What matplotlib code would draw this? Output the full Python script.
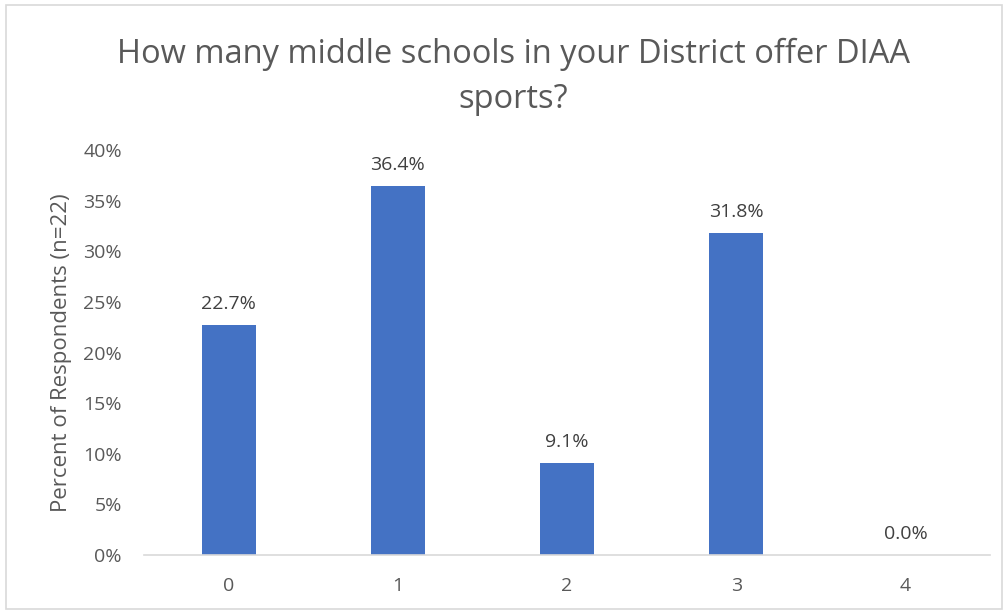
import matplotlib.pyplot as plt
import matplotlib.patches as patches

# chart data
categories = ["0", "1", "2", "3", "4"]
percents = [22.7, 36.4, 9.1, 31.8, 0.0]
y_ticks = [0, 5, 10, 15, 20, 25, 30, 35, 40]

plt.rcParams['font.family'] = ['Open Sans', 'DejaVu Sans']

fig = plt.figure(figsize=(10.06, 6.11), dpi=100)
ax = fig.add_axes([144/1006, 56/611, 846/1006, 405/611])

x = range(len(categories))
ax.bar(x, percents, width=0.32, color='#4472C4', zorder=2)

for xi, v in zip(x, percents):
    ax.text(xi, v + 1.2, "%.1f%%" % v, ha='center', va='bottom',
            fontsize=14, color='#404040')

ax.set_xlim(-0.5, len(categories) - 0.5)
ax.set_ylim(0, 40)
ax.set_xticks(list(x))
ax.set_xticklabels(categories)
ax.set_yticks(y_ticks)
ax.set_yticklabels([str(t) + "%" for t in y_ticks])
ax.tick_params(axis='both', length=0, labelsize=14, colors='#595959')
ax.tick_params(axis='x', pad=16)
ax.tick_params(axis='y', pad=16)

for s in ['top', 'right', 'left']:
    ax.spines[s].set_visible(False)
ax.spines['bottom'].set_color('#d9d9d9')
ax.spines['bottom'].set_linewidth(1.2)

ax.set_ylabel("Percent of Respondents (n=22)", fontsize=16, color='#595959', labelpad=8)

fig.text(0.51, 1 - 77/611, "How many middle schools in your District offer DIAA\nsports?",
         ha='center', va='center', fontsize=23.5, color='#595959', linespacing=1.5)

# outer chart border
fig.patches.append(patches.Rectangle((6/1006, 2/611), 996/1006, 604/611,
                                     transform=fig.transFigure, fill=False,
                                     edgecolor='#d9d9d9', linewidth=1.2))

fig.savefig("out.png", dpi=100)
